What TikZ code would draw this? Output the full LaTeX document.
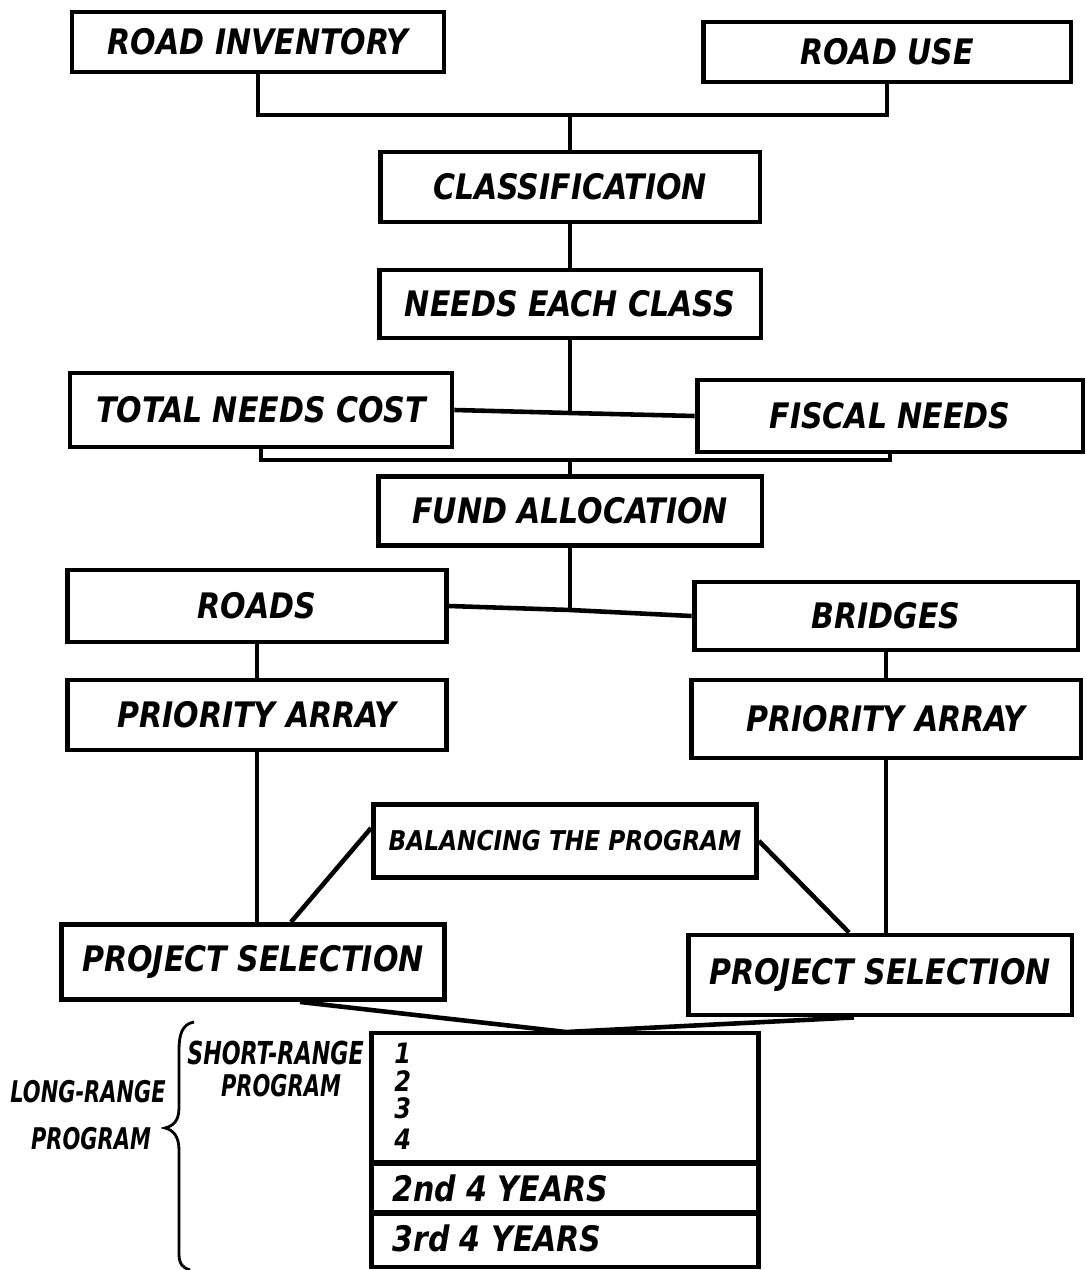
\documentclass[tikz,border=0pt]{standalone}
\usepackage{fontspec}
\setmainfont{DejaVu Sans Condensed Bold Oblique}[FakeStretch=0.95]
\newfontfamily\lblfont{DejaVu Sans Condensed Bold Oblique}[FakeStretch=0.78]
\begin{document}
\begin{tikzpicture}[x=0.02cm,y=-0.02cm,
		box/.style={draw,line width=2.8pt,inner sep=0pt,font=\fontsize{20}{24}\selectfont},
		link/.style={line width=2.6pt},
		lbl/.style={inner sep=0pt,font=\fontsize{20}{24}\selectfont},
		side/.style={inner sep=0pt,align=center,font=\lblfont\fontsize{17}{20}\selectfont}]
	\useasboundingbox (0,0) rectangle (1086,1270);
	% boxes
	\node[box,minimum width=7.44cm,minimum height=1.2cm] (inv) at (258,42) {ROAD INVENTORY};
	\node[box,minimum width=7.36cm,minimum height=1.2cm] (use) at (887,52) {ROAD USE};
	\node[box,minimum width=7.6cm,minimum height=1.4cm] (cls) at (570,187) {CLASSIFICATION};
	\node[box,minimum width=7.64cm,minimum height=1.36cm] (nec) at (570,304) {NEEDS EACH CLASS};
	\node[box,minimum width=7.64cm,minimum height=1.48cm] (tnc) at (261,410) {TOTAL NEEDS COST};
	\node[box,minimum width=7.72cm,minimum height=1.44cm] (fis) at (890,416) {FISCAL NEEDS};
	\node[box,minimum width=7.68cm,minimum height=1.38cm] (fund) at (570,511) {FUND ALLOCATION};
	\node[box,minimum width=7.58cm,minimum height=1.44cm] (roads) at (257,606) {ROADS};
	\node[box,minimum width=7.68cm,minimum height=1.36cm] (bridges) at (886,616) {BRIDGES};
	\node[box,minimum width=7.58cm,minimum height=1.4cm] (prl) at (257,715) {PRIORITY ARRAY};
	\node[box,minimum width=7.8cm,minimum height=1.56cm] (prr) at (886,719) {PRIORITY ARRAY};
	\node[box,minimum width=7.66cm,minimum height=1.46cm,font=\fontsize{15.5}{19}\selectfont] (bal) at (565,841) {BALANCING THE PROGRAM};
	\node[box,minimum width=7.66cm,minimum height=1.5cm] (psl) at (253,962) {PROJECT SELECTION};
	\node[box,minimum width=7.68cm,minimum height=1.6cm] (psr) at (880,975) {PROJECT SELECTION};
	\node[box,minimum width=7.74cm,minimum height=4.68cm] (prog) at (565,1150) {};
	% junctions
	\coordinate (j1) at (570,115);
	\coordinate (j2) at (570,413);
	\coordinate (j3) at (570,460);
	\coordinate (j4) at (570,610);
	\coordinate (j5) at (566,1032);
	\draw[link] (inv.south) |- (j1) -| (use.south);
	\draw[link] (j1) -- (cls.north);
	\draw[link] (cls) -- (nec);
	\draw[link] (nec) -- (j2);
	\draw[link] (tnc.east) -- (j2) -- (fis.west);
	\draw[link] (tnc.south) |- (j3) -| (fis.south);
	\draw[link] (j3) -- (fund.north);
	\draw[link] (fund) -- (j4);
	\draw[link] (roads.east) -- (j4) -- (bridges.west);
	\draw[link] (roads) -- (prl);
	\draw[link] (bridges) -- (prr);
	\draw[link] (prl.south) -- (prl.south |- psl.north);
	\draw[link] (prr.south) -- (prr.south |- psr.north);
	\draw[link] ([yshift=0.26cm]bal.west) -- ([xshift=0.76cm]psl.north);
	\draw[link] (bal.east) -- ([xshift=-0.62cm]psr.north);
	\draw[link] ([xshift=0.94cm]psl.south) -- (j5) -- ([xshift=-0.52cm]psr.south);
	% program table
	\coordinate (d1) at (565,1163);
	\coordinate (d2) at (565,1213);
	\draw[line width=3.4pt] (prog.west |- d1) -- (prog.east |- d1);
	\draw[line width=3.4pt] (prog.west |- d2) -- (prog.east |- d2);
	\node[lbl,anchor=west,font=\fontsize{16}{18}\selectfont] (n1) at (394,1053) {1};
	\node[lbl,anchor=west,font=\fontsize{16}{18}\selectfont] (n2) at (394,1081) {2};
	\node[lbl,anchor=west,font=\fontsize{16}{18}\selectfont] (n3) at (394,1108) {3};
	\node[lbl,anchor=west,font=\fontsize{16}{18}\selectfont] (n4) at (394,1139) {4};
	\node[lbl,anchor=west] (y2) at (392,1188) {2nd 4 YEARS};
	\node[lbl,anchor=west] (y3) at (392,1238) {3rd 4 YEARS};
	\node[side,anchor=east,font=\lblfont\fontsize{18}{20}\selectfont] (srp) at (364,1053) {SHORT-RANGE};
	\node[side] (srp2) at (281,1086) {PROGRAM};
	\node[side,anchor=east] (lrp) at (166,1092) {LONG-RANGE};
	\node[side] (lrp2) at (91,1139) {PROGRAM};
	% brace
	\draw[line width=1.6pt] (194,1022) .. controls (182,1024) and (179,1035) .. (179,1050) -- (179,1108)
		.. controls (179,1121) and (173,1126) .. (165,1128) .. controls (173,1130) and (179,1136) .. (179,1150)
		-- (179,1254) .. controls (179,1264) and (183,1268) .. (190,1270);
\end{tikzpicture}
\end{document}
